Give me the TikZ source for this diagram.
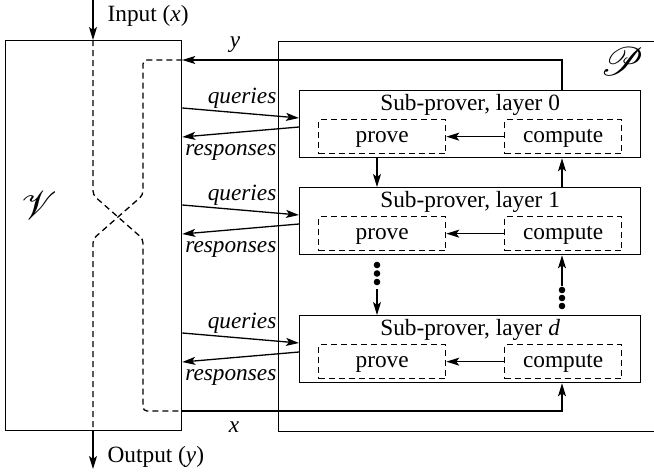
\documentclass[tikz,border=0pt]{standalone}
\usepackage{fontspec}
\setmainfont{Liberation Serif}
\usepackage{mathrsfs}
\usetikzlibrary{arrows.meta,calc}
\begin{document}
\begin{tikzpicture}[x=1pt,y=-1pt, line width=1.3pt, font=\fontsize{23.3}{28}\selectfont,
 arr/.style={-{Stealth[length=13pt,width=8pt,inset=3pt]}},
 box/.style={draw, inner sep=0pt, anchor=north west},
 dsh/.style={dash pattern=on 6pt off 4pt},
 sub/.style={draw, dsh, inner sep=0pt, anchor=north west, minimum height=34pt, text height=15pt, text depth=4pt},
 lbl/.style={inner sep=0pt, font=\fontsize{23.3}{28}\selectfont\itshape},
 scr/.style={inner sep=0pt},
]
\useasboundingbox (0,0) rectangle (654,472);
% main boxes
\node[box, minimum width=176pt, minimum height=390pt] (V) at (5,40) {};
\node[box, minimum width=380pt, minimum height=390pt] (P) at (278,41) {};
\node[scr] (Vl) at (39,206) {\scalebox{1.6}{$\mathscr{V}$}};
\node[scr] (Pl) at (622,62) {\scalebox{1.6}{$\mathscr{P}$}};
% helper coordinates
\coordinate (cL) at (377,0);
\coordinate (cR) at (562,0);
\coordinate (inx) at (93,0);
\coordinate (outy) at (93,469);
\coordinate (ytop) at (562,60);
\coordinate (xbot) at (562,411);
% layers
\foreach \n/\t/\lab in {0/90/0, 1/187/1, d/315/\textit{d}}{
  \node[box, minimum width=341pt, minimum height=67pt] (L\n) at (299,\t) {};
  \node[anchor=base, inner sep=0pt] (T\n) at ($(L\n.north)+(0,20)$) {Sub-prover, layer \lab};
  \node[sub, minimum width=127pt] (pr\n) at ($(L\n.north west)+(19,29)$) {prove};
  \node[sub, minimum width=117pt] (co\n) at ($(L\n.north west)+(205,29)$) {compute};
  \draw[arr] (co\n.west) -- (pr\n.east);
  \path (V.east |- L\n.north) ++(0,18) coordinate (qs\n);
  \path (V.east |- L\n.north) ++(0,47) coordinate (re\n);
  \draw[arr] (qs\n) -- ($(L\n.north west)+(0,28)$);
  \draw[arr] ($(L\n.north west)+(0,37)$) -- (re\n);
  \node[lbl, anchor=base east] (q\n) at ($(L\n.north west)+(-22,13.5)$) {queries};
  \node[lbl, anchor=base east] (r\n) at ($(L\n.north west)+(-22,65.5)$) {responses};
}
% vertical arrows between layers
\draw[arr] (L0.south -| cL) -- (L1.north -| cL);
\draw[arr] (L1.north -| cR) -- (L0.south -| cR);
\foreach \yy in {265,273.5,282} \fill (377,\yy) circle (3.3pt);
\coordinate (dl) at (377,289);
\draw[arr] (dl) -- (Ld.north -| cL);
\coordinate (dr) at (562,286);
\draw[arr] (dr) -- (L1.south -| cR);
\foreach \yy in {290,298,306} \fill (562,\yy) circle (3.3pt);
% y and x lines
\draw[arr] (L0.north -| ytop) -- (ytop) -- (V.east |- ytop);
\draw[arr] (V.east |- xbot) -- (xbot) -- (Ld.south -| xbot);
\node[lbl] (ylab) at (235,45) {y};
\node[lbl] (xlab) at (234,427) {x};
% input / output
\draw[arr] (inx) -- (V.north -| inx);
\node[anchor=west, inner sep=0pt] (inl) at (107,16) {Input (\textit{x})};
\draw[arr] (V.south -| outy) -- (outy);
\node[anchor=west, inner sep=0pt] (outl) at (107,457) {Output (\textit{y})};
% dashed crossing paths
\draw[dsh, rounded corners=4pt] (V.north -| inx) -- (93,195) -- (143,239) -- (143,411) -- (V.east |- xbot);
\draw[dsh, rounded corners=4pt] (V.east |- ytop) -- (143,60) -- (143,195) -- (93,239) -- (V.south -| inx);
\end{tikzpicture}
\end{document}
